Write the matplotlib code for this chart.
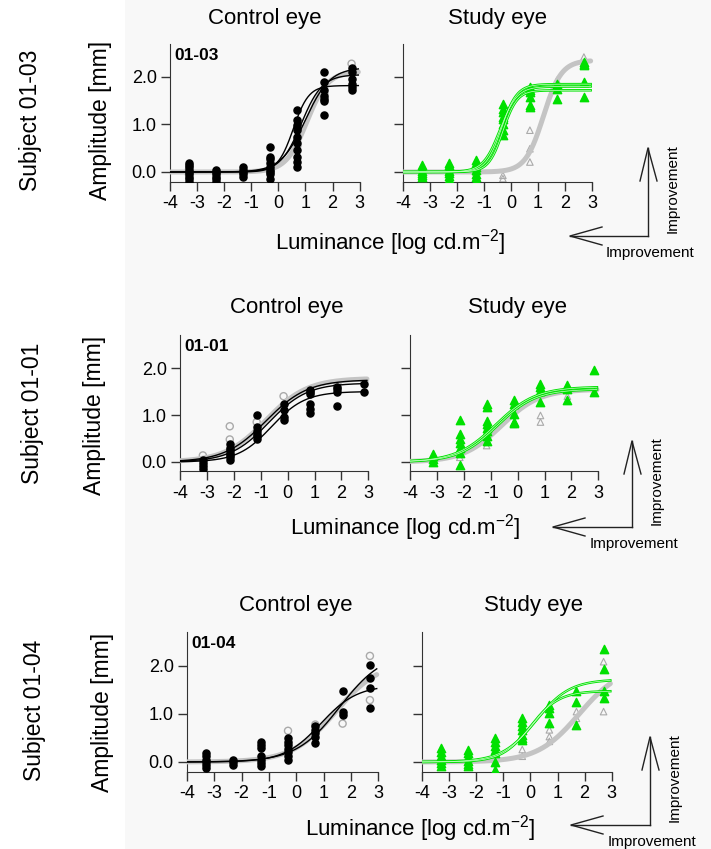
import numpy as np
import matplotlib
matplotlib.use("Agg")
import matplotlib.pyplot as plt
from matplotlib.patches import Rectangle

plt.rcParams['font.family'] = ['Liberation Sans', 'DejaVu Sans']
plt.rcParams['mathtext.fontset'] = 'custom'
plt.rcParams['mathtext.rm'] = 'Liberation Sans'
plt.rcParams['mathtext.it'] = 'Liberation Sans'

# ==========================
# DATA
# ==========================
subjects = ["01-03", "01-01", "01-04"]
x_ticks = [-4, -3, -2, -1, 0, 1, 2, 3]
y_ticks = [0.0, 1.0, 2.0]

lum_a = [-3.3, -2.3, -1.3, -0.3, 0.7, 1.7, 2.7]
lum_b = [-3.15, -2.15, -1.15, -0.15, 0.85, 1.85, 2.85]
lum_c = [-3.3, -2.3, -1.3, -0.3, 0.7, 1.7, 2.7]

# subject 01-03
ctrl_a_black = [[0.2, 0.15, 0.1, 0.05, 0.0, -0.05, -0.1, -0.15, -0.2],
                [0.05, 0.0, -0.05, -0.1, -0.15, -0.2],
                [0.1, 0.05, 0.0, -0.05, -0.1],
                [0.53, 0.32, 0.28, 0.18, 0.1, 0.05, 0.0, -0.05, -0.15],
                [1.3, 1.09, 0.98, 0.88, 0.74, 0.6, 0.46, 0.32, 0.21, 0.1],
                [2.1, 1.9, 1.72, 1.61, 1.54, 1.5, 1.19],
                [2.18, 2.1, 1.96, 1.86, 1.79, 1.72]]
ctrl_a_gray = [[0.05, -0.05], [0.0], [0.0], [0.02], [0.7, 0.55], [1.65], [2.28]]
ctrl_a_fits = [(1.82, 0.55, 3.5), (2.2, 1.0, 2.2), (2.05, 0.85, 2.6)]
ctrl_a_ref = (2.12, 1.05, 2.6)

study_a_green = [[0.14, 0.08, 0.03, -0.02, -0.06, -0.1],
                 [0.2, 0.14, 0.08, 0.03, -0.02, -0.08, -0.14],
                 [0.25, 0.18, 0.1, 0.04, -0.04, -0.1, -0.18],
                 [1.44, 1.33, 1.26, 1.16, 1.12, 1.02, 0.88, 0.77],
                 [1.79, 1.72, 1.68, 1.58, 1.4, 1.37],
                 [1.86, 1.75, 1.54],
                 [2.32, 2.28, 2.25, 1.89, 1.58]]
study_a_gray = [[0.0], [0.0], [0.0], [-0.07, -0.14], [0.88, 0.49, 0.21], [1.93], [2.42]]
study_a_fits = [(1.85, -0.35, 3.5), (1.8, -0.4, 3.2), (1.72, -0.3, 3.8)]
study_a_ref = (2.35, 1.2, 3.0)

# subject 01-01
ctrl_b_black = [[0.04, -0.02, -0.08, -0.14],
                [0.38, 0.3, 0.25, 0.2, 0.15, 0.1, 0.05],
                [0.99, 0.75, 0.65, 0.6, 0.55, 0.5],
                [1.24, 1.1, 0.96, 0.89],
                [1.54, 1.49, 1.45, 1.24, 1.13, 1.04],
                [1.6, 1.55, 1.49, 1.2],
                [1.65, 1.49]]
ctrl_b_gray = [[0.14], [0.76, 0.48], [0.85], [1.4], [1.5], [1.67], [1.72]]
ctrl_b_fits = [(1.75, -0.8, 1.3), (1.5, -0.6, 1.6), (1.68, -0.7, 1.4)]
ctrl_b_ref = (1.78, -0.8, 1.3)

study_b_green = [[0.18, 0.12, 0.06, 0.0],
                 [0.89, 0.6, 0.5, 0.4, 0.3, 0.2, -0.07],
                 [1.24, 1.17, 0.88, 0.8, 0.72, 0.65, 0.55, 0.45],
                 [1.31, 1.24, 1.03, 0.85, 0.82],
                 [1.67, 1.6, 1.52, 1.28],
                 [1.63, 1.56, 1.31],
                 [1.95, 1.49]]
study_b_gray = [[0.05], [0.1], [0.35], [0.8], [0.99, 0.85], [1.4], [1.5]]
study_b_fits = [(1.6, -0.8, 1.35), (1.55, -0.75, 1.4)]
study_b_ref = (1.55, -0.6, 1.4)

# subject 01-04
ctrl_c_black = [[0.19, 0.12, 0.05, 0.0, -0.06, -0.12],
                [0.05, 0.0, -0.06],
                [0.41, 0.36, 0.29, 0.12, 0.05, -0.02, -0.09],
                [0.5, 0.42, 0.35, 0.28, 0.2, 0.12, 0.05],
                [0.74, 0.67, 0.6, 0.53, 0.39],
                [1.47, 1.05, 0.98],
                [2.03, 1.76, 1.54, 1.12]]
ctrl_c_gray = [[0.0], [0.02], [0.05], [0.65], [0.78], [0.8], [2.21, 1.29]]
ctrl_c_fits = [(2.3, 1.6, 1.25), (1.6, 0.9, 1.5)]
ctrl_c_ref = (2.1, 1.45, 1.25)

study_c_green = [[0.29, 0.2, 0.12, 0.05, -0.02, -0.09],
                 [0.26, 0.18, 0.1, 0.03, -0.04, -0.09],
                 [0.5, 0.42, 0.34, 0.26, 0.19, 0.01, -0.16],
                 [0.91, 0.84, 0.76, 0.67, 0.57, 0.5, 0.46],
                 [1.19, 1.12, 1.02, 0.82],
                 [1.47, 1.26, 0.78],
                 [2.35, 1.93, 1.47, 1.33]]
study_c_gray = [[0.0], [0.0], [0.05], [0.26, 0.12], [0.67, 0.53, 0.43], [1.05, 0.91], [2.09, 1.05]]
study_c_fits = [(1.72, 0.2, 1.6), (1.48, 0.0, 1.9)]
study_c_ref = (2.0, 1.8, 1.3)

# ==========================
# LAYOUT (pixels)
# ==========================
W, H = 711, 849
# left px at x=-4, px per x unit, px of y=0, px per y unit
ax_px = [[(170, 27.1, 172, 47.5), (403, 27.0, 172, 47.5)],
         [(180, 26.9, 462, 47.0), (410, 26.9, 462, 47.0)],
         [(187, 27.3, 762, 48.0), (422, 27.1, 762, 48.0)]]
XL = (-4, 3.1)
YL = (-0.2, 2.7)

GREEN = '#00e000'
GRAY = '#c4c4c4'


def logistic(x, p):
    a, x50, s = p
    return a / (1 + np.exp(-(x - x50) * s))


def make_ax(spec):
    L, ux, y0, uy = spec
    left = L
    right = L + (XL[1] - XL[0]) * ux
    top = y0 - YL[1] * uy
    bottom = y0 - YL[0] * uy
    ax = fig.add_axes([left / W, 1 - bottom / H, (right - left) / W, (bottom - top) / H])
    ax.set_facecolor('none')
    ax.set_xlim(*XL)
    ax.set_ylim(*YL)
    for s in ['top', 'right']:
        ax.spines[s].set_visible(False)
    ax.spines['bottom'].set_bounds(-4, 3)
    ax.spines['left'].set_color('#333333')
    ax.spines['bottom'].set_color('#333333')
    ax.set_xticks(x_ticks)
    ax.set_xticklabels([str(t) for t in x_ticks], fontsize=13)
    ax.set_yticks(y_ticks)
    ax.set_yticklabels(['%.1f' % t for t in y_ticks], fontsize=13)
    ax.tick_params(length=6.5, width=1, color='#333333', pad=3)
    return ax


def scatter_levels(ax, lum, vals, **kw):
    xs = [lum[i] for i in range(len(lum)) for v in vals[i]]
    ys = [v for i in range(len(lum)) for v in vals[i]]
    ax.scatter(xs, ys, **kw)


fig = plt.figure(figsize=(W / 100, H / 100), dpi=100)
fig.patches.append(Rectangle((125 / W, 0), 1 - 125 / W, 1, transform=fig.transFigure,
                             facecolor='#f8f8f8', edgecolor='none', zorder=-5))

xx = np.linspace(-4, 2.95, 300)
rows = [
    (lum_a, ctrl_a_black, ctrl_a_gray, ctrl_a_fits, ctrl_a_ref,
     study_a_green, study_a_gray, study_a_fits, study_a_ref),
    (lum_b, ctrl_b_black, ctrl_b_gray, ctrl_b_fits, ctrl_b_ref,
     study_b_green, study_b_gray, study_b_fits, study_b_ref),
    (lum_c, ctrl_c_black, ctrl_c_gray, ctrl_c_fits, ctrl_c_ref,
     study_c_green, study_c_gray, study_c_fits, study_c_ref),
]

for r, (lum, cb, cg, cf, cr, sg, sgr, sf, sr) in enumerate(rows):
    # control eye
    ax = make_ax(ax_px[r][0])
    scatter_levels(ax, lum, cg, s=26, facecolors='none', edgecolors='#aaaaaa', linewidths=1, zorder=2)
    ax.plot(xx, logistic(xx, cr), color=GRAY, lw=3.6, solid_capstyle='round', zorder=3)
    scatter_levels(ax, lum, cb, s=26, color='black', zorder=4)
    for p in cf:
        ax.plot(xx, logistic(xx, p), color='black', lw=1, zorder=5)
    ax.text(-3.85, 2.62, subjects[r], fontsize=12.5, fontweight='bold', va='top', ha='left')

    # study eye
    ax = make_ax(ax_px[r][1])
    ax.set_yticklabels([])
    scatter_levels(ax, lum, sgr, s=22, marker='^', facecolors='none', edgecolors='#aaaaaa',
                   linewidths=0.8, zorder=2)
    ax.plot(xx, logistic(xx, sr), color=GRAY, lw=3.6, solid_capstyle='round', zorder=3)
    scatter_levels(ax, lum, sg, s=36, marker='^', color=GREEN, zorder=4)
    for p in sf:
        ax.plot(xx, logistic(xx, p), color=GREEN, lw=1.8, zorder=5)
        ax.plot(xx, logistic(xx, p), color='#ccffcc', lw=0.5, zorder=6)

# ==========================
# TEXTS & ARROWS (pixel overlay)
# ==========================
ov = fig.add_axes([0, 0, 1, 1], zorder=10)
ov.set_xlim(0, W)
ov.set_ylim(H, 0)
ov.axis('off')
ov.patch.set_alpha(0)

titles = [((265, 18), (497, 18)), ((287, 308), (517, 308)), ((296, 605), (533, 605))]
amp_pos = [(100, 120), (95, 415), (103, 712)]
subj_pos = [(30, 120), (33, 413), (35, 710)]
lum_pos = [(390, 243), (405, 528), (420, 829)]
for r in range(3):
    ov.text(*titles[r][0], 'Control eye', fontsize=16, ha='center', va='center')
    ov.text(*titles[r][1], 'Study eye', fontsize=16, ha='center', va='center')
    ov.text(*amp_pos[r], 'Amplitude [mm]', fontsize=16.5, rotation=90, ha='center', va='center')
    ov.text(*subj_pos[r], 'Subject ' + subjects[r], fontsize=16.5, rotation=90, ha='center', va='center')
    ov.text(*lum_pos[r], r'Luminance [log cd.m$^{-2}$]', fontsize=16, ha='center', va='center')

# corner (x, y), vertical tip y, horizontal tip x
arrows = [(648, 236, 148, 570), (632, 527, 441, 553), (650, 825, 737, 571)]
for cx, cy, ty, tx in arrows:
    ov.plot([cx, cx], [cy, ty], color='#222222', lw=1)
    ov.plot([cx - 8, cx, cx + 9], [ty + 33, ty, ty + 33], color='#222222', lw=1)
    ov.plot([cx, tx], [cy, cy], color='#222222', lw=1)
    ov.plot([tx + 32, tx, tx + 32], [cy - 9, cy, cy + 9], color='#222222', lw=1)
    ov.text(cx + 25, (cy + ty) / 2 - 3, 'Improvement', fontsize=11, rotation=90, ha='center', va='center')
    ov.text(cx + 2, cy + 17, 'Improvement', fontsize=11, ha='center', va='center')

fig.savefig('out.png', dpi=100)
